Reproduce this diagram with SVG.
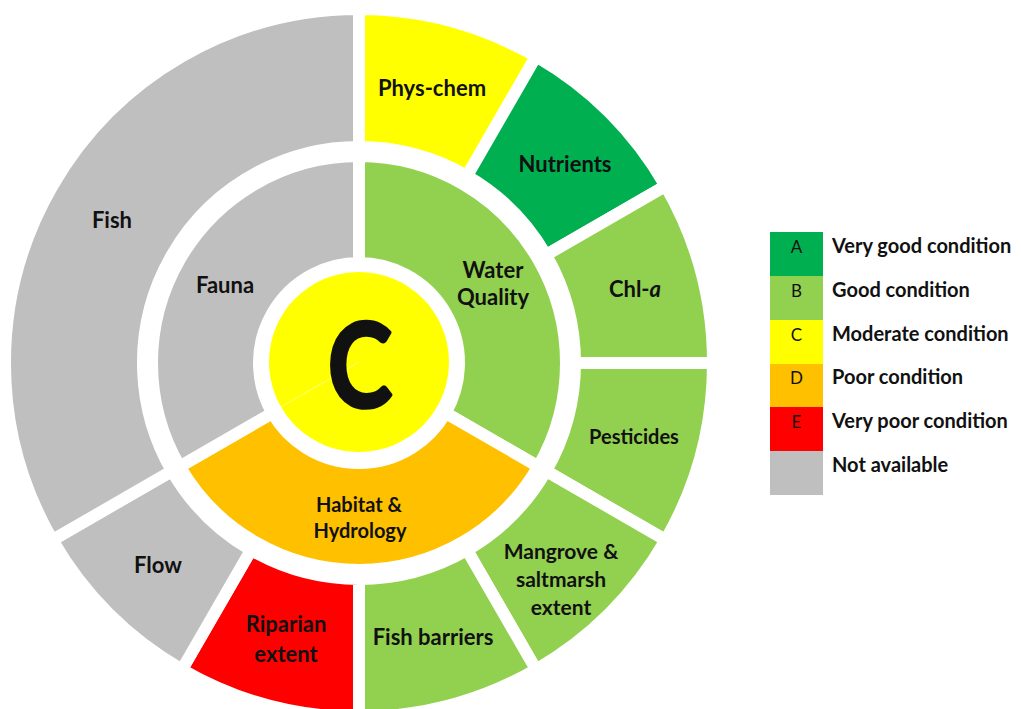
<svg xmlns="http://www.w3.org/2000/svg" width="1021" height="709" viewBox="0 0 1021 709">
  <style>
    .seg { stroke: #ffffff; stroke-width: 12; stroke-linejoin: miter; }
    .na { fill: #bfbfbf; }
    .a { fill: #00b050; }
    .b { fill: #92d050; }
    .c { fill: #ffff00; }
    .d { fill: #ffc000; }
    .e { fill: #ff0000; }
    .lbl { font-family: Lato, "Liberation Sans", sans-serif; font-weight: bold; fill: #111111; text-anchor: middle; }
    .big { font-size: 22px; }
    .mid { font-size: 20px; }
    .mg { font-size: 21px; }
    .grade { font-size: 116px; stroke: #111111; stroke-width: 3.5; stroke-linejoin: round; }
    .key { font-family: Lato, "Liberation Sans", sans-serif; font-size: 20px; font-weight: bold; fill: #111111; }
    .letter { font-family: Lato, "Liberation Sans", sans-serif; font-size: 17px; fill: #111111; text-anchor: middle; }
  </style>
  <rect width="1021" height="709" fill="#ffffff"/>

  <!-- outer ring: indicators, 30 degrees each -->
  <g id="phys-chem">
    <path class="seg c" d="M359,147 L359,9 A354,354 0 0 1 536,56.4 L467,175.94 A216,216 0 0 0 359,147 Z"/>
    <text class="lbl big" x="432" y="96">Phys-chem</text>
  </g>
  <g id="nutrients">
    <path class="seg a" d="M467,175.94 L536,56.4 A354,354 0 0 1 665.6,186 L546.06,255 A216,216 0 0 0 467,175.94 Z"/>
    <text class="lbl big" x="565" y="172">Nutrients</text>
  </g>
  <g id="chl-a">
    <path class="seg b" d="M546.06,255 L665.6,186 A354,354 0 0 1 713,363 L575,363 A216,216 0 0 0 546.06,255 Z"/>
    <text class="lbl big" x="635" y="297">Chl-<tspan font-style="italic">a</tspan></text>
  </g>
  <g id="pesticides">
    <path class="seg b" d="M575,363 L713,363 A354,354 0 0 1 665.6,540 L546.06,471 A216,216 0 0 0 575,363 Z"/>
    <text class="lbl mid" x="634" y="444">Pesticides</text>
  </g>
  <g id="mangrove">
    <path class="seg b" d="M546.06,471 L665.6,540 A354,354 0 0 1 536,669.6 L467,550.06 A216,216 0 0 0 546.06,471 Z"/>
    <text class="lbl mg" x="561" y="559">Mangrove &amp;</text>
    <text class="lbl mg" x="561" y="587">saltmarsh</text>
    <text class="lbl mg" x="561" y="615">extent</text>
  </g>
  <g id="fish-barriers">
    <path class="seg b" d="M467,550.06 L536,669.6 A354,354 0 0 1 359,717 L359,579 A216,216 0 0 0 467,550.06 Z"/>
    <text class="lbl big" x="433" y="645">Fish barriers</text>
  </g>
  <g id="riparian">
    <path class="seg e" d="M359,579 L359,717 A354,354 0 0 1 182,669.6 L251,550.06 A216,216 0 0 0 359,579 Z"/>
    <text class="lbl big" x="286" y="632">Riparian</text>
    <text class="lbl big" x="286" y="662">extent</text>
  </g>
  <g id="flow">
    <path class="seg na" d="M251,550.06 L182,669.6 A354,354 0 0 1 52.4,540 L171.94,471 A216,216 0 0 0 251,550.06 Z"/>
    <text class="lbl big" x="158" y="573">Flow</text>
  </g>
  <g id="fish">
    <path class="seg na" d="M171.94,471 L52.4,540 A354,354 0 0 1 359,9 L359,147 A216,216 0 0 0 171.94,471 Z"/>
    <text class="lbl big" x="112" y="228">Fish</text>
  </g>

  <!-- middle ring: themes -->
  <g id="water-quality">
    <path class="seg b" d="M359,263 L359,156 A207,207 0 0 1 538.27,466.5 L445.6,413 A100,100 0 0 0 359,263 Z"/>
    <text class="lbl big" x="493" y="278">Water</text>
    <text class="lbl big" x="493" y="305">Quality</text>
  </g>
  <g id="habitat">
    <path class="seg d" d="M445.6,413 L538.27,466.5 A207,207 0 0 1 179.73,466.5 L272.4,413 A100,100 0 0 0 445.6,413 Z"/>
    <text class="lbl mid" x="359" y="512">Habitat &amp;</text>
    <text class="lbl mid" x="360" y="538">Hydrology</text>
  </g>
  <g id="fauna">
    <path class="seg na" d="M272.4,413 L179.73,466.5 A207,207 0 0 1 359,156 L359,263 A100,100 0 0 0 272.4,413 Z"/>
    <text class="lbl big" x="225" y="293">Fauna</text>
  </g>

  <!-- centre: overall grade -->
  <g id="overall">
    <circle cx="359" cy="362" r="90" class="c"/>
    <line x1="359" y1="362" x2="281" y2="407" stroke="#ffffa0" stroke-width="1" opacity="0.8"/>
    <text class="lbl grade" x="0" y="0" transform="translate(360,407) scale(0.84,1)">C</text>
  </g>

  <!-- legend -->
  <g id="legend">
    <rect x="770" y="232" width="53" height="44" class="a"/>
    <rect x="770" y="276" width="53" height="44" class="b"/>
    <rect x="770" y="320" width="53" height="44" class="c"/>
    <rect x="770" y="364" width="53" height="43" class="d"/>
    <rect x="770" y="407" width="53" height="44" class="e"/>
    <rect x="770" y="451" width="53" height="44" class="na"/>
    <text class="letter" x="796.5" y="253">A</text>
    <text class="letter" x="796.5" y="297">B</text>
    <text class="letter" x="796.5" y="340.5">C</text>
    <text class="letter" x="796.5" y="384">D</text>
    <text class="letter" x="796.5" y="428">E</text>
    <text class="key" x="832" y="253">Very good condition</text>
    <text class="key" x="832" y="297">Good condition</text>
    <text class="key" x="832" y="340.5">Moderate condition</text>
    <text class="key" x="832" y="384">Poor condition</text>
    <text class="key" x="832" y="428">Very poor condition</text>
    <text class="key" x="832" y="471.5">Not available</text>
  </g>
</svg>
